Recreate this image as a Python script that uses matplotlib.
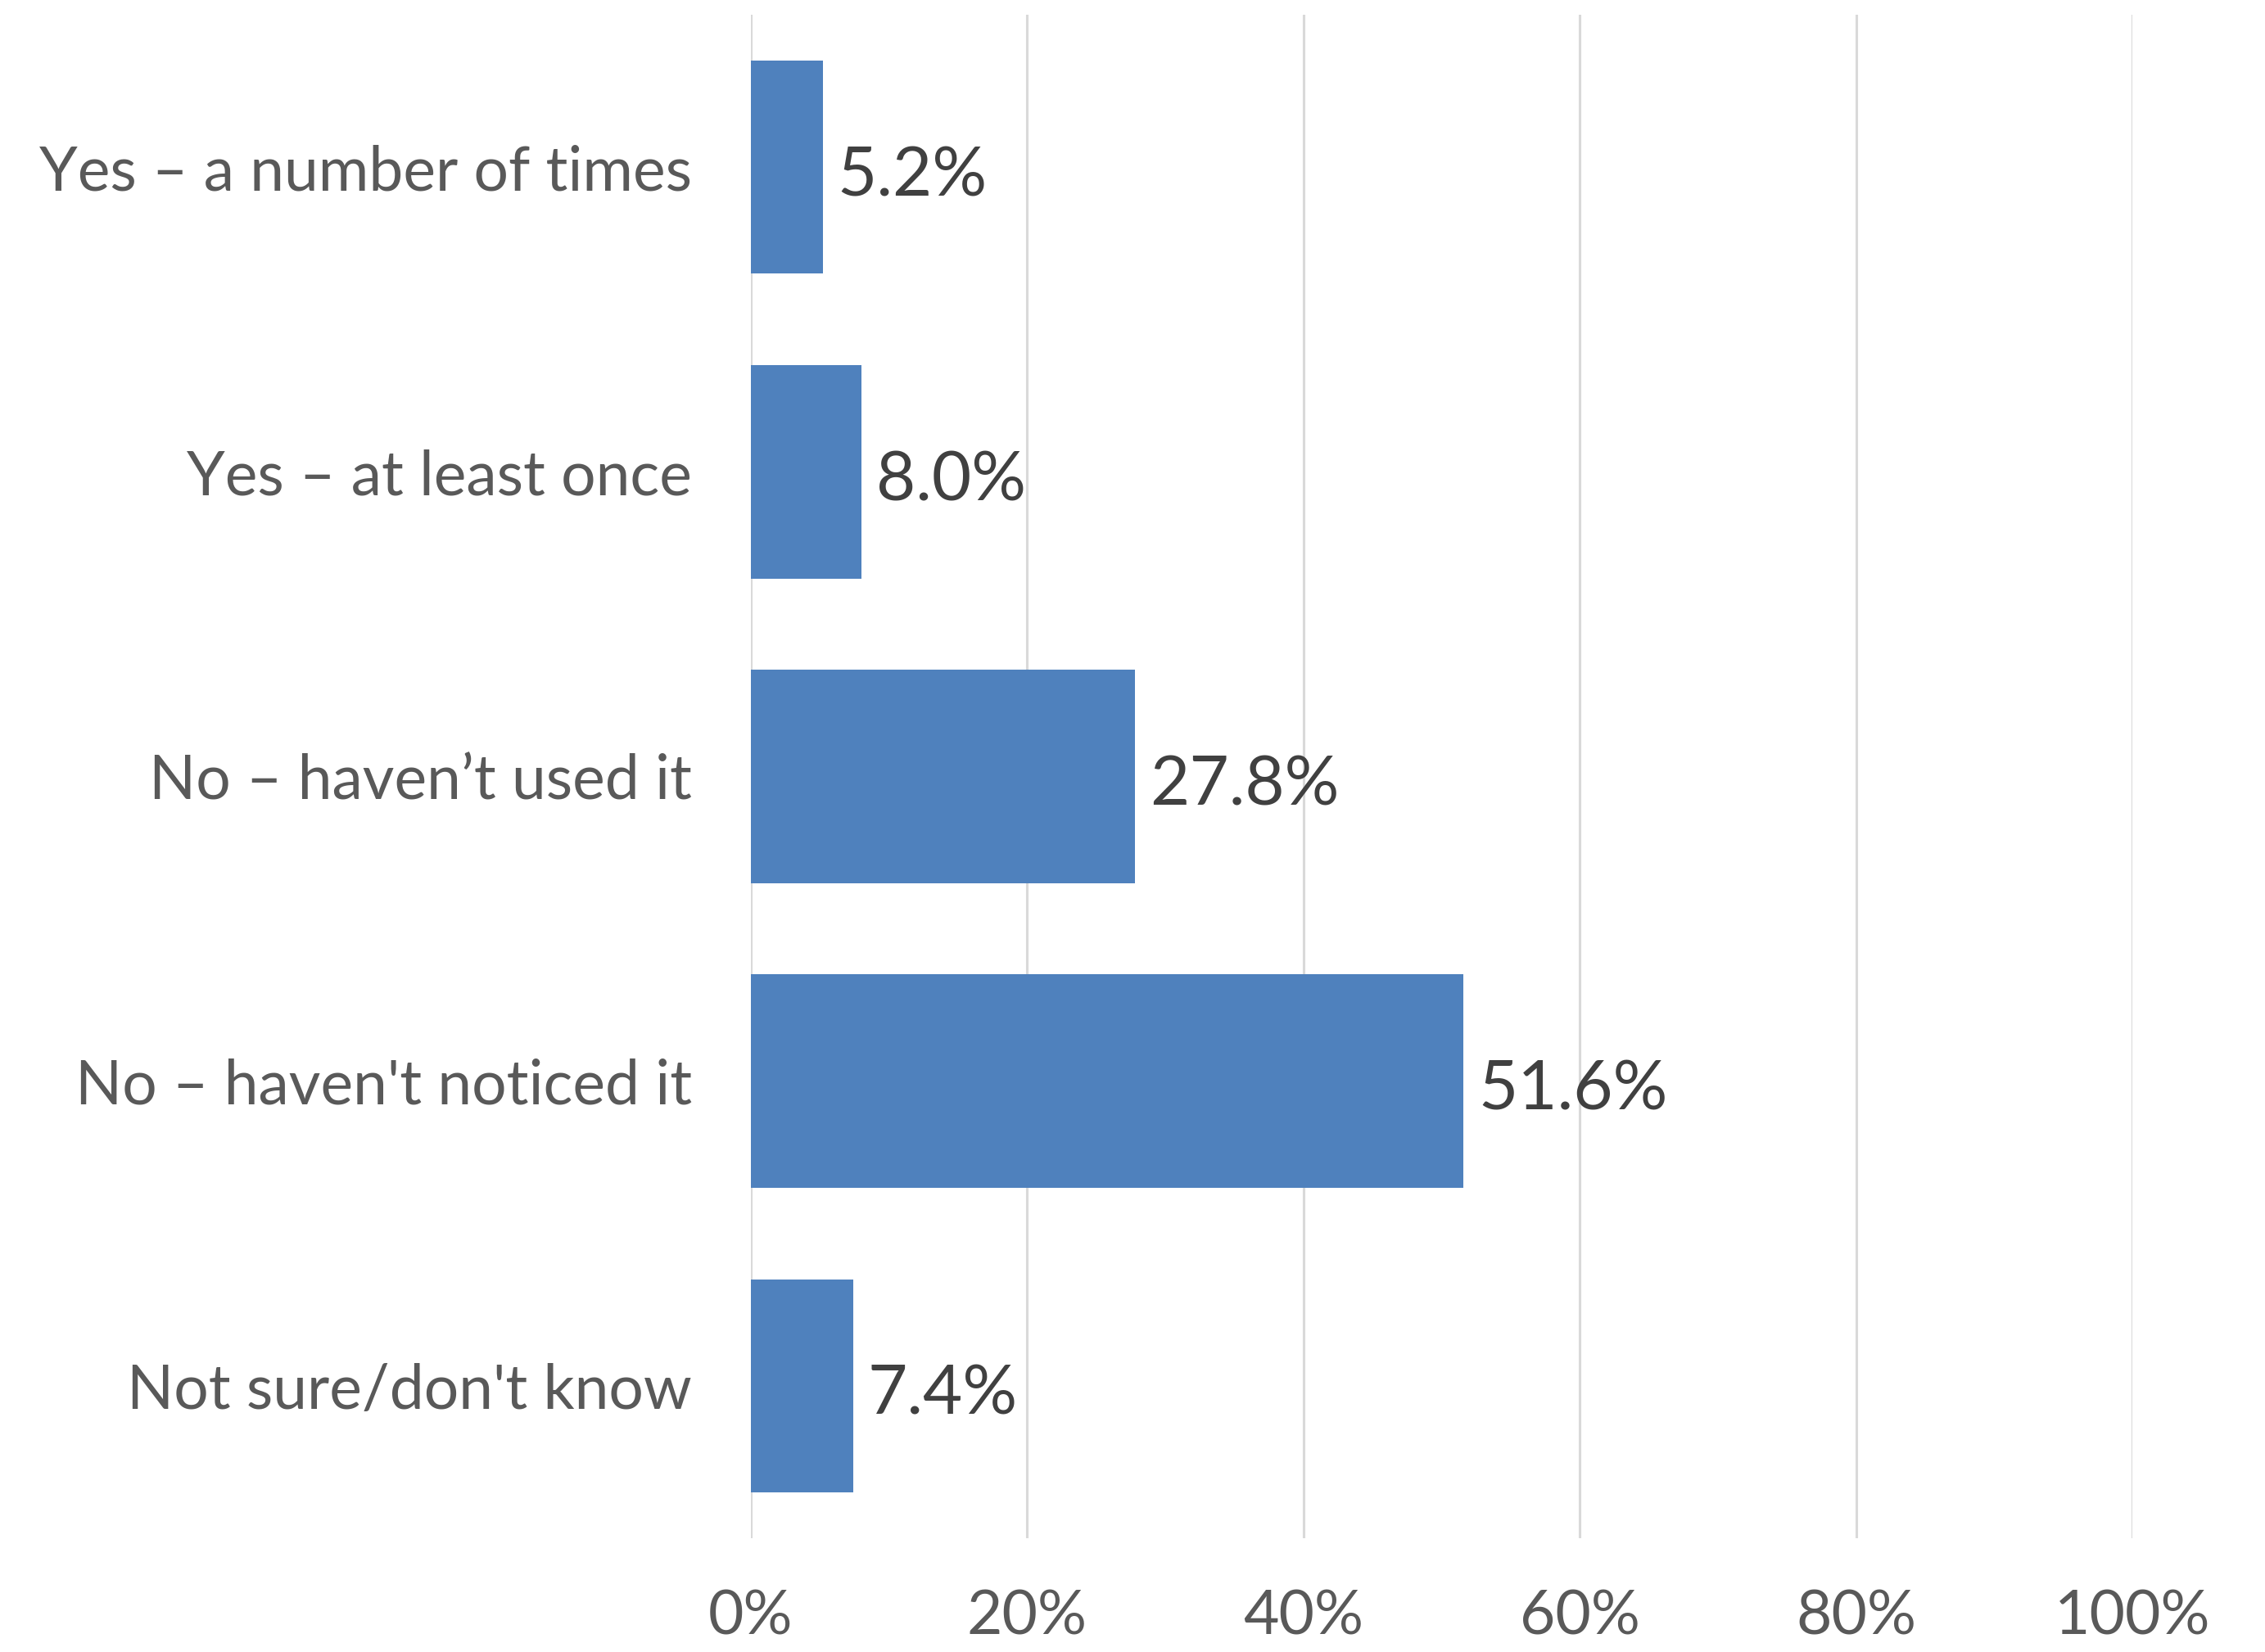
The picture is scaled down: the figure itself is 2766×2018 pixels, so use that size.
import matplotlib
matplotlib.use("Agg")
import matplotlib.pyplot as plt
from matplotlib.ticker import FixedLocator, FuncFormatter

categories = [
    "Yes \u2013 a number of times",
    "Yes \u2013 at least once",
    "No \u2013 haven\u2019t used it",
    "No \u2013 haven't noticed it",
    "Not sure/don't know",
]
values = [5.2, 8.0, 27.8, 51.6, 7.4]
x_ticks = [0, 20, 40, 60, 80, 100]

plt.rcParams["font.family"] = ["Lato", "DejaVu Sans"]

fig = plt.figure(figsize=(27.66, 20.18), dpi=100)
ax = fig.add_axes([0.3315, 0.0689, 0.6099, 0.9221])

bar_color = "#4f81bd"
positions = list(range(len(categories)))
ax.barh(positions, values, height=0.70, color=bar_color, zorder=3)

ax.set_ylim(len(categories) - 0.5, -0.5)
ax.set_xlim(0, 100)

ax.set_yticks(positions)
ax.set_yticklabels(categories, fontsize=54, color="#595959")
ax.xaxis.set_major_locator(FixedLocator(x_ticks))
ax.xaxis.set_major_formatter(FuncFormatter(lambda v, _: f"{v:.0f}%"))
ax.tick_params(axis="x", labelsize=54, labelcolor="#595959", length=0, pad=44)
ax.tick_params(axis="y", length=0, pad=52)

ax.grid(axis="x", color="#d9d9d9", linewidth=2.2, zorder=0)
for side in ("top", "right", "bottom", "left"):
    ax.spines[side].set_visible(False)

for y, v in zip(positions, values):
    ax.annotate(f"{v:.1f}%", xy=(v, y), xytext=(18, -12), textcoords="offset pixels",
                ha="left", va="center", fontsize=60, color="#404040", zorder=4)

fig.savefig("out.png", dpi=100, facecolor="white")
